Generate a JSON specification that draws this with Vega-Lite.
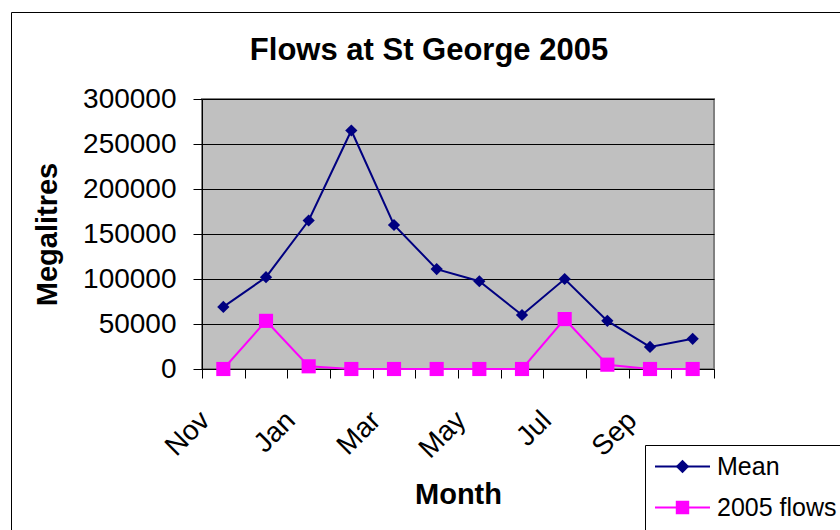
{
  "$schema": "https://vega.github.io/schema/vega-lite/v6.json",
  "width": 512,
  "height": 270,
  "autosize": "none",
  "padding": {"left": 202, "top": 99, "right": 126, "bottom": 161},
  "background": "white",
  "title": {
    "text": "Flows at St George 2005",
    "font": "Liberation Sans",
    "fontSize": 31,
    "fontWeight": "bold",
    "color": "black",
    "anchor": "middle",
    "frame": "group",
    "dx": -29,
    "baseline": "alphabetic",
    "offset": -79
  },
  "data": {
    "values": [
      {"month": "Nov", "series": "Mean", "value": 69000},
      {"month": "Dec", "series": "Mean", "value": 102000},
      {"month": "Jan", "series": "Mean", "value": 165000},
      {"month": "Feb", "series": "Mean", "value": 265000},
      {"month": "Mar", "series": "Mean", "value": 160000},
      {"month": "Apr", "series": "Mean", "value": 111000},
      {"month": "May", "series": "Mean", "value": 97500},
      {"month": "Jun", "series": "Mean", "value": 60000},
      {"month": "Jul", "series": "Mean", "value": 100000},
      {"month": "Aug", "series": "Mean", "value": 53500},
      {"month": "Sep", "series": "Mean", "value": 24500},
      {"month": "Oct", "series": "Mean", "value": 33500},
      {"month": "Nov", "series": "2005 flows", "value": 0},
      {"month": "Dec", "series": "2005 flows", "value": 53500},
      {"month": "Jan", "series": "2005 flows", "value": 3000},
      {"month": "Feb", "series": "2005 flows", "value": 0},
      {"month": "Mar", "series": "2005 flows", "value": 0},
      {"month": "Apr", "series": "2005 flows", "value": 0},
      {"month": "May", "series": "2005 flows", "value": 0},
      {"month": "Jun", "series": "2005 flows", "value": 0},
      {"month": "Jul", "series": "2005 flows", "value": 55500},
      {"month": "Aug", "series": "2005 flows", "value": 4800},
      {"month": "Sep", "series": "2005 flows", "value": 0},
      {"month": "Oct", "series": "2005 flows", "value": 0}
    ]
  },
  "encoding": {
    "x": {
      "field": "month",
      "type": "ordinal",
      "sort": ["Nov","Dec","Jan","Feb","Mar","Apr","May","Jun","Jul","Aug","Sep","Oct"],
      "bandPosition": 0.5,
      "scale": {"type": "band", "paddingInner": 0, "paddingOuter": 0},
      "axis": {
        "title": "Month",
        "tickBand": "extent",
        "labelAngle": -45,
        "labelAlign": "right",
        "labelBaseline": "middle",
        "labelExpr": "indexof(['Nov','Jan','Mar','May','Jul','Sep'], datum.value) >= 0 ? datum.value : ''",
        "labelFontSize": 28,
        "labelPadding": 38,
        "labelOffset": -18,
        "titleFontSize": 29,
        "titlePadding": 17
      }
    },
    "y": {
      "field": "value",
      "type": "quantitative",
      "scale": {"domain": [0, 300000], "nice": false},
      "axis": {
        "title": "Megalitres",
        "values": [0, 50000, 100000, 150000, 200000, 250000, 300000],
        "format": "d",
        "labelFontSize": 28,
        "labelPadding": 17,
        "titleFontSize": 29,
        "titlePadding": 20,
        "grid": true
      }
    }
  },
  "layer": [
    {
      "mark": {"type": "line", "strokeWidth": 2},
      "encoding": {
        "stroke": {
          "field": "series",
          "type": "nominal",
          "sort": "descending",
          "scale": {"range": ["#000080", "#FF00FF"]},
          "legend": {
            "orient": "none",
            "legendX": 443,
            "legendY": 346,
            "title": null,
            "padding": 9,
            "strokeColor": "black",
            "symbolType": "stroke",
            "symbolSize": 3025,
            "symbolStrokeWidth": 2,
            "clipHeight": 25,
            "labelFont": "Liberation Sans",
            "labelFontSize": 25,
            "labelColor": "black",
            "labelOffset": 6,
            "rowPadding": 15,
            "zindex": 1
          }
        },
        "opacity": {
          "field": "series",
          "type": "nominal",
          "scale": {"range": [1, 1]},
          "legend": {
            "orient": "none",
            "legendX": -191,
            "legendY": -87,
            "title": null,
            "padding": 700,
            "strokeColor": "black",
            "symbolOpacity": 0,
            "labelOpacity": 0,
            "zindex": 0,
            "encode": {"legend": {"strokeWidth": {"value": 3}}}
          }
        }
      }
    },
    {
      "mark": {"type": "point", "filled": true, "opacity": 1},
      "encoding": {
        "color": {
          "field": "series",
          "type": "nominal",
          "sort": ["Mean", "2005 flows"],
          "scale": {"range": ["#000080", "#FF00FF"]},
          "legend": null
        },
        "shape": {
          "field": "series",
          "type": "nominal",
          "sort": ["Mean", "2005 flows"],
          "scale": {"range": ["diamond", "square"]},
          "legend": {
            "orient": "none",
            "legendX": 459,
            "legendY": 346,
            "title": null,
            "padding": 9,
            "labelFont": "Liberation Sans",
            "labelFontSize": 25,
            "labelOffset": 6,
            "labelOpacity": 0,
            "rowPadding": 15,
            "clipHeight": 25,
            "symbolSize": 180,
            "symbolFillColor": {"expr": "scale('color', datum.value)"},
            "symbolOpacity": 1,
            "symbolStrokeWidth": 0,
            "zindex": 2
          }
        },
        "size": {
          "field": "series",
          "type": "nominal",
          "sort": ["Mean", "2005 flows"],
          "scale": {"range": [150, 200]},
          "legend": null
        }
      }
    }
  ],
  "config": {
    "font": "Liberation Sans",
    "view": {"fill": "#C0C0C0", "stroke": "#808080", "strokeWidth": 2},
    "axis": {
      "labelFont": "Liberation Sans",
      "labelColor": "black",
      "titleFont": "Liberation Sans",
      "titleFontWeight": "bold",
      "titleColor": "black",
      "domainColor": "black",
      "domainWidth": 1,
      "tickColor": "black",
      "tickSize": 9,
      "gridColor": "black",
      "gridWidth": 1,
      "gridOpacity": 1
    },
    "axisX": {"grid": false}
  }
}
